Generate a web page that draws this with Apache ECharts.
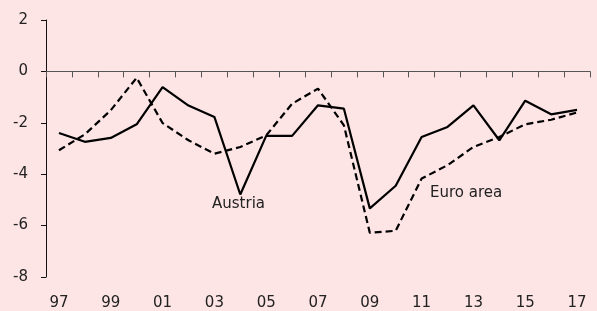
<!DOCTYPE html>
<html>
<head>
<meta charset="utf-8">
<style>
  html, body { margin: 0; padding: 0; background: #fde4e5; }
  #chart { width: 597px; height: 311px; }
</style>
<script src="https://cdn.jsdelivr.net/npm/echarts@6/dist/echarts.min.js"></script>
</head>
<body>
<div id="chart"></div>
<script>
const years = ['97', '98', '99', '00', '01', '02', '03', '04', '05', '06', '07',
  '08', '09', '10', '11', '12', '13', '14', '15', '16', '17']
const austria = [-2.40, -2.74, -2.59, -2.06, -0.61, -1.33, -1.77, -4.79, -2.51, -2.51, -1.32,
  -1.45, -5.33, -4.45, -2.55, -2.16, -1.32, -2.68, -1.14, -1.67, -1.50]
const euroArea = [-3.07, -2.45, -1.51, -0.25, -2.01, -2.68, -3.20, -2.94, -2.49, -1.26, -0.67,
  -2.10, -6.28, -6.20, -4.17, -3.65, -2.94, -2.55, -2.06, -1.88, -1.60]
const yTicks = { min: -8, max: 2, step: 2 }

const font = 'DejaVu Sans'
const textColor = '#222'

const chart = echarts.init(document.getElementById('chart'))

const option = {
  backgroundColor: '#fde4e5',
  animation: false,
  textStyle: { fontFamily: font },
  grid: { left: 46, right: 7, top: 20, bottom: 33 },
  xAxis: [
    {
      // axis line drawn through zero, ticks only
      type: 'category',
      data: years,
      boundaryGap: true,
      axisLine: { onZero: true, lineStyle: { color: '#555', width: 1 } },
      axisTick: { show: true, interval: 0, length: 6, lineStyle: { color: '#555' } },
      axisLabel: { show: false },
      splitLine: { show: false },
    },
    {
      // labels at the bottom
      type: 'category',
      data: years,
      position: 'bottom',
      boundaryGap: true,
      axisLine: { show: false, onZero: false },
      axisTick: { show: false },
      axisLabel: { interval: 1, margin: 19, color: textColor, fontSize: 15, fontFamily: font },
      splitLine: { show: false },
    },
  ],
  yAxis: {
    type: 'value',
    min: yTicks.min,
    max: yTicks.max,
    interval: yTicks.step,
    axisLine: { show: true, lineStyle: { color: '#111', width: 1 } },
    axisTick: { show: true, length: 5, lineStyle: { color: '#111' } },
    axisLabel: { margin: 18, color: textColor, fontSize: 15, fontFamily: font },
    splitLine: { show: false },
  },
  series: [
    {
      name: 'Austria',
      type: 'line',
      xAxisIndex: 0,
      data: austria,
      symbol: 'none',
      lineStyle: { color: '#000', width: 2.2 },
    },
    {
      name: 'Euro area',
      type: 'line',
      xAxisIndex: 0,
      data: euroArea,
      symbol: 'none',
      lineStyle: { color: '#000', width: 2.2, type: [7, 4] },
    },
  ],
  graphic: [
    {
      type: 'text',
      left: 212,
      top: 197,
      style: { text: 'Austria', fill: textColor, font: '15px "DejaVu Sans"' },
    },
    {
      type: 'text',
      left: 430,
      top: 186,
      style: { text: 'Euro area', fill: textColor, font: '15px "DejaVu Sans"' },
    },
  ],
}

chart.setOption(option)
</script>
</body>
</html>
